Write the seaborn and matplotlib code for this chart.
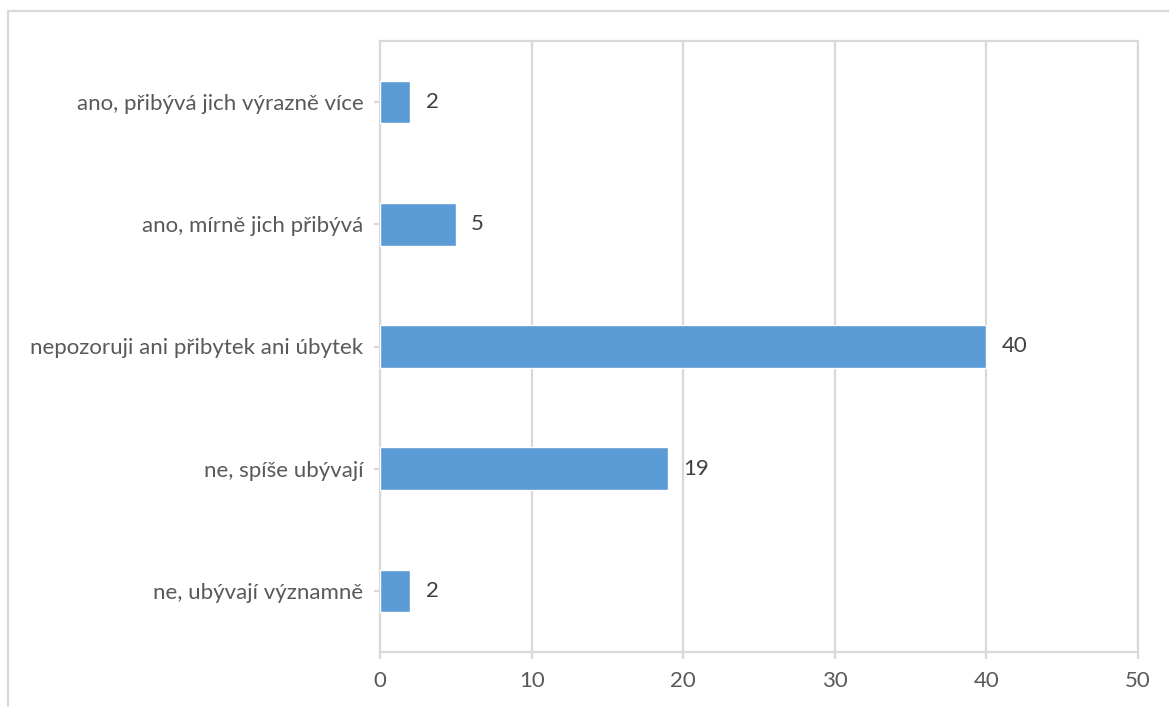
import matplotlib
matplotlib.use("Agg")
import matplotlib.pyplot as plt
from matplotlib.patches import Rectangle
import seaborn as sns
import pandas as pd

# Survey answers (top to bottom) and number of respondents
categories = [
    "ano, přibývá jich výrazně více",
    "ano, mírně jich přibývá",
    "nepozoruji ani přibytek ani úbytek",
    "ne, spíše ubývají",
    "ne, ubývají významně",
]
counts = [2, 5, 40, 19, 2]
x_ticks = [0, 10, 20, 30, 40, 50]

BAR = "#5B9BD5"
GRID = "#D9D9D9"
TICK_TXT = "#595959"
LABEL_TXT = "#404040"

sns.set_theme(style="white")
plt.rcParams["font.family"] = ["Lato", "DejaVu Sans"]

df = pd.DataFrame({"answer": categories, "count": counts})

W, H = 1169, 707
fig = plt.figure(figsize=(W / 100, H / 100), dpi=100)
ax = fig.add_axes([380 / W, 1 - 652 / H, (1138 - 380) / W, (652 - 41) / H])

sns.barplot(data=df, y="answer", x="count", orient="h", color=BAR,
            width=0.35, saturation=1, ax=ax, zorder=3)

ax.set_xlim(0, 50)
ax.set_ylim(4.5, -0.5)
ax.set_xticks(x_ticks)
ax.set_xlabel("")
ax.set_ylabel("")

# vertical gridlines
ax.grid(axis="x", color=GRID, linewidth=1.6, zorder=0)
ax.grid(axis="y", visible=False)
for s in ax.spines.values():
    s.set_visible(True)
    s.set_color(GRID)
    s.set_linewidth(1.6)

ax.tick_params(axis="x", length=5, width=1.6, color=GRID, labelsize=16,
               labelcolor=TICK_TXT, pad=9, bottom=True)
ax.tick_params(axis="y", length=4, width=1.6, color=GRID, labelsize=16,
               labelcolor=TICK_TXT, pad=8, left=True)

# value labels next to the bars
for i, v in enumerate(counts):
    ax.annotate(str(v), xy=(v, i), xytext=(11, 0), textcoords="offset points",
                ha="left", va="center", fontsize=16, color=LABEL_TXT)

# chart area frame
fig.patches.append(Rectangle((8 / W, -0.5), 1.5, 1.5 - 11 / H,
                             transform=fig.transFigure, fill=False,
                             edgecolor=GRID, linewidth=1.6))

fig.savefig("out.png", dpi=100, facecolor="white")
